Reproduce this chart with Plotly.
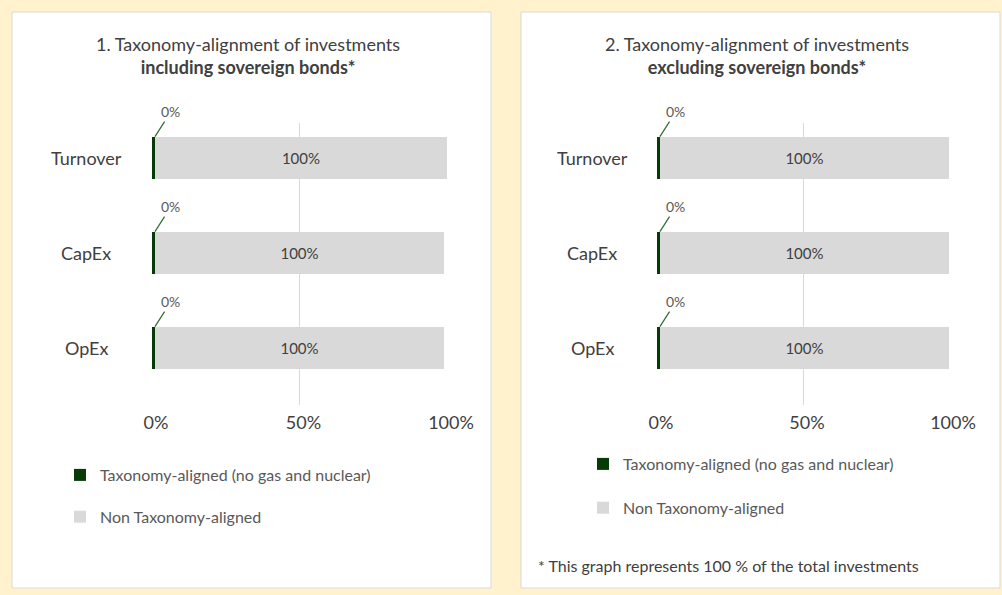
import plotly.graph_objects as go

W, H = 1002, 595
FONT = "Lato"
GREEN = "#053b05"
GREY = "#D9D9D9"
TEXT = "#404040"
LIGHT_TEXT = "#595959"
BG = "#FFF2CC"
BAR_W = 0.45

# ------------------------------------------------------------------
# Data
# ------------------------------------------------------------------
categories = ["Turnover", "CapEx", "OpEx"]
x_ticks = [0, 50, 100]
x_tick_labels = ["0%", "50%", "100%"]
legend_names = ["Taxonomy-aligned (no gas and nuclear)", "Non Taxonomy-aligned"]

# 1. including sovereign bonds
incl_aligned = [1.0, 1.0, 1.0]
incl_non_aligned = [99.0, 98.0, 98.0]
incl_aligned_labels = ["0%", "0%", "0%"]
incl_non_aligned_labels = ["100%", "100%", "100%"]

# 2. excluding sovereign bonds
excl_aligned = [1.0, 1.0, 1.0]
excl_non_aligned = [99.0, 99.0, 99.0]
excl_aligned_labels = ["0%", "0%", "0%"]
excl_non_aligned_labels = ["100%", "100%", "100%"]

footnote = "* This graph represents 100 % of the total investments"


def px_x(v):
    return v / W


def px_y(v):
    return 1 - v / H


panels = [
    dict(
        xa="x", ya="y", legend="legend",
        box=(12, 12, 491, 588), axis_x=(152, 447), label_x=86,
        title="1. Taxonomy-alignment of investments<br><b>including sovereign bonds*</b>",
        aligned=incl_aligned, non_aligned=incl_non_aligned,
        aligned_labels=incl_aligned_labels, non_aligned_labels=incl_non_aligned_labels,
        legend_pos=(60, 458), legend_gap=18,
    ),
    dict(
        xa="x2", ya="y2", legend="legend2",
        box=(521, 12, 1000, 588), axis_x=(657, 949), label_x=592,
        title="2. Taxonomy-alignment of investments<br><b>excluding sovereign bonds*</b>",
        aligned=excl_aligned, non_aligned=excl_non_aligned,
        aligned_labels=excl_aligned_labels, non_aligned_labels=excl_non_aligned_labels,
        legend_pos=(583, 447), legend_gap=20,
    ),
]

fig = go.Figure()
shapes = []
annotations = []
layout_extra = {}

for p in panels:
    # stacked bars
    fig.add_trace(go.Bar(
        orientation="h", y=categories, x=p["aligned"], width=BAR_W,
        name=legend_names[0], marker=dict(color=GREEN, line_width=0),
        xaxis=p["xa"], yaxis=p["ya"], legend=p["legend"], legendgroup=p["legend"] + "a",
        hoverinfo="skip",
    ))
    fig.add_trace(go.Bar(
        orientation="h", y=categories, x=p["non_aligned"], width=BAR_W,
        name=legend_names[1], marker=dict(color=GREY, line_width=0),
        text=p["non_aligned_labels"], textposition="inside", insidetextanchor="middle",
        textfont=dict(family=FONT, size=15, color=TEXT),
        xaxis=p["xa"], yaxis=p["ya"], legend=p["legend"], legendgroup=p["legend"] + "b",
        hoverinfo="skip",
    ))

    # white panel box
    x0, y0, x1, y1 = p["box"]
    shapes.append(dict(
        type="rect", xref="paper", yref="paper",
        x0=px_x(x0), x1=px_x(x1), y0=px_y(y1), y1=px_y(y0),
        fillcolor="white", line=dict(color="#D9D9D9", width=1), layer="below",
    ))

    # title
    annotations.append(dict(
        xref="paper", yref="paper", x=px_x((x0 + x1) / 2 - 4), y=px_y(31),
        xanchor="center", yanchor="top", showarrow=False,
        text=p["title"], font=dict(family=FONT, size=18, color=TEXT),
    ))

    # category labels (centered like the original)
    for i, c in enumerate(categories):
        annotations.append(dict(
            xref="paper", yref=p["ya"], x=px_x(p["label_x"]), y=i,
            xanchor="center", yanchor="middle", showarrow=False,
            text=c, font=dict(family=FONT, size=18, color=TEXT),
        ))
        # small "0%" label with leader line
        annotations.append(dict(
            xref=p["xa"], yref=p["ya"], x=p["aligned"][i], y=i - BAR_W / 2,
            ax=16, ay=-25, showarrow=True, arrowhead=0, arrowwidth=1.2,
            arrowcolor="#2e6b2e", standoff=0,
            text=p["aligned_labels"][i], font=dict(family=FONT, size=14, color=LIGHT_TEXT),
        ))

    ax_key = "xaxis" if p["xa"] == "x" else "xaxis2"
    ay_key = "yaxis" if p["ya"] == "y" else "yaxis2"
    layout_extra[ax_key] = dict(
        domain=[px_x(p["axis_x"][0]), px_x(p["axis_x"][1])],
        range=[0, 100], tickvals=x_ticks, ticktext=x_tick_labels,
        showgrid=True, gridcolor=GREY, gridwidth=1, zeroline=False, showline=False,
        ticks="", ticklabelstandoff=5, ticklabelshift=4, automargin=False,
        tickfont=dict(family=FONT, size=18, color=TEXT), fixedrange=True,
        anchor=p["ya"],
    )
    layout_extra[ay_key] = dict(
        domain=[px_y(405), px_y(123)],
        type="category", categoryorder="array", categoryarray=categories,
        range=[2.6, -0.368], showticklabels=False, showgrid=False, automargin=False,
        zeroline=False, showline=False, fixedrange=True, anchor=p["xa"],
    )
    lx, ly = p["legend_pos"]
    layout_extra[p["legend"]] = dict(
        x=px_x(lx), y=px_y(ly), xanchor="left", yanchor="top",
        bgcolor="rgba(0,0,0,0)", borderwidth=0,
        font=dict(family=FONT, size=16, color=LIGHT_TEXT),
        tracegroupgap=p["legend_gap"], traceorder="grouped",
    )

annotations.append(dict(
    xref="paper", yref="paper", x=px_x(536), y=px_y(565),
    xanchor="left", yanchor="middle", showarrow=False,
    text=footnote, font=dict(family=FONT, size=16, color=TEXT),
))

fig.update_layout(
    width=W, height=H, autosize=False,
    margin=dict(l=0, r=0, t=0, b=0, pad=0, autoexpand=False),
    paper_bgcolor=BG, plot_bgcolor="rgba(0,0,0,0)",
    barmode="stack", showlegend=True,
    shapes=shapes, annotations=annotations,
    font=dict(family=FONT),
    **layout_extra,
)

fig.write_html(
    "out.html",
    config={"displayModeBar": False},
    post_script="document.body.style.margin='0';document.body.style.overflow='hidden';",
)
